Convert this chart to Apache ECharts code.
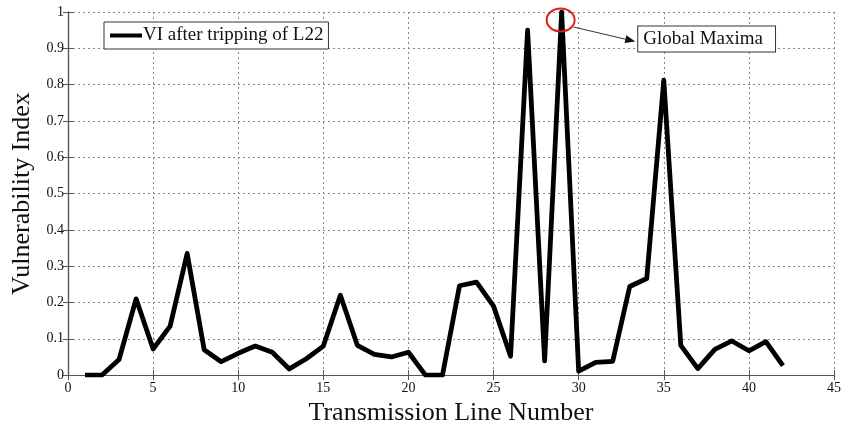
<!DOCTYPE html>
<html><head><meta charset="utf-8">
<script src="https://cdn.jsdelivr.net/npm/echarts@6/dist/echarts.min.js"></script>
<style>html,body{margin:0;padding:0;background:#fff}#c{width:844px;height:431px}</style>
</head><body><div id="c"></div>
<script>
const lineNumbers = [1,2,3,4,5,6,7,8,9,10,11,12,13,14,15,16,17,18,19,20,21,22,23,24,25,26,27,28,29,30,31,32,33,34,35,36,37,38,39,40,41,42];
const viValues = [0,0,0.043,0.21,0.072,0.135,0.335,0.07,0.037,0.06,0.08,0.063,0.017,0.045,0.08,0.22,0.082,0.057,0.05,0.063,0,0,0.246,0.256,0.19,0.052,0.95,0.039,1.0,0.011,0.035,0.038,0.244,0.266,0.812,0.082,0.018,0.071,0.094,0.067,0.092,0.026];
const seriesName = 'VI after tripping of L22';
const xTitle = 'Transmission Line Number';
const yTitle = 'Vulnerability Index';
const annotationText = 'Global Maxima';

const serif = '"Liberation Serif", "DejaVu Serif", serif';
const chart = echarts.init(document.getElementById('c'));
const data = lineNumbers.map((x, i) => [x, viValues[i]]);
const gridStyle = {show: true, lineStyle: {type: [2, 3], color: '#888', width: 1}};
const axLine = {show: true, lineStyle: {color: '#555', width: 1.2}};
chart.setOption({
  animation: false,
  grid: {left: 68, top: 12, right: 6, bottom: 55},
  legend: {
    left: 104, top: 22, data: [{name: seriesName, icon: 'rect'}],
    itemWidth: 32, itemHeight: 4, itemGap: 0,
    borderColor: '#333', borderWidth: 1, padding: [4, 5, 4, 6],
    backgroundColor: '#fff',
    textStyle: {fontFamily: serif, fontSize: 19, color: '#111', padding: [0, 0, 0, -4]}
  },
  xAxis: [{
    type: 'value', min: 0, max: 45, interval: 5,
    name: xTitle, nameLocation: 'middle', nameGap: 23,
    nameTextStyle: {fontFamily: serif, fontSize: 26, color: '#111'},
    axisLine: axLine, axisTick: {show: true, inside: true, length: 5, lineStyle: {color: '#555'}},
    axisLabel: {fontFamily: serif, fontSize: 14, color: '#111', margin: 6},
    splitLine: gridStyle
  }, {
    type: 'value', min: 0, max: 45, interval: 5, position: 'top',
    axisLine: axLine, axisTick: {show: true, inside: true, length: 5, lineStyle: {color: '#555'}},
    axisLabel: {show: false}, splitLine: {show: false}
  }],
  yAxis: [{
    type: 'value', min: 0, max: 1, interval: 0.1,
    name: yTitle, nameLocation: 'middle', nameGap: 30,
    nameTextStyle: {fontFamily: serif, fontSize: 26, color: '#111'},
    axisLine: axLine, axisTick: {show: true, inside: true, length: 5, lineStyle: {color: '#555'}},
    axisLabel: {fontFamily: serif, fontSize: 14, color: '#111', margin: 4},
    splitLine: gridStyle
  }, {
    type: 'value', min: 0, max: 1, interval: 0.1, position: 'right',
    axisLine: axLine, axisTick: {show: true, inside: true, length: 5, lineStyle: {color: '#555'}},
    axisLabel: {show: false}, splitLine: {show: false}
  }],
  series: [{
    name: seriesName, type: 'line', data: data, symbol: 'none',
    lineStyle: {color: '#000', width: 4.8, join: 'round', cap: 'butt'}, itemStyle: {color: '#000'},
    z: 5
  }]
});

// annotation anchored to the maximum data point
let maxI = 0;
viValues.forEach((v, i) => { if (v > viValues[maxI]) maxI = i; });
const p = chart.convertToPixel({xAxisIndex: 0, yAxisIndex: 0}, [lineNumbers[maxI], viValues[maxI]]);
const boxPos = chart.convertToPixel({xAxisIndex: 0, yAxisIndex: 0}, [33.5, 0.96]);
const cx = p[0] - 1, cy = p[1] + 8;
const ax0 = cx + 13, ay0 = cy + 7;
const ax1 = boxPos[0] - 3, ay1 = boxPos[1] + 15;
const ang = Math.atan2(ay1 - ay0, ax1 - ax0);
const hl = 10, hw = 4;
const hx = ax1 - hl * Math.cos(ang), hy = ay1 - hl * Math.sin(ang);
chart.setOption({
  graphic: [
    {type: 'ellipse', shape: {cx: cx, cy: cy, rx: 14, ry: 11.5}, style: {fill: null, stroke: '#e0201b', lineWidth: 2}, z: 10},
    {type: 'line', shape: {x1: ax0, y1: ay0, x2: hx, y2: hy}, style: {stroke: '#333', lineWidth: 1}, z: 10},
    {type: 'polygon', shape: {points: [[ax1, ay1], [hx + hw * Math.sin(ang), hy - hw * Math.cos(ang)], [hx - hw * Math.sin(ang), hy + hw * Math.cos(ang)]]}, style: {fill: '#111'}, z: 10},
    {type: 'text', x: boxPos[0], y: boxPos[1], z: 10,
     style: {text: annotationText, font: '19px ' + serif, fill: '#111', backgroundColor: '#fff',
       borderColor: '#333', borderWidth: 1, padding: [3, 12, 3, 5]}}
  ]
});
</script></body></html>
